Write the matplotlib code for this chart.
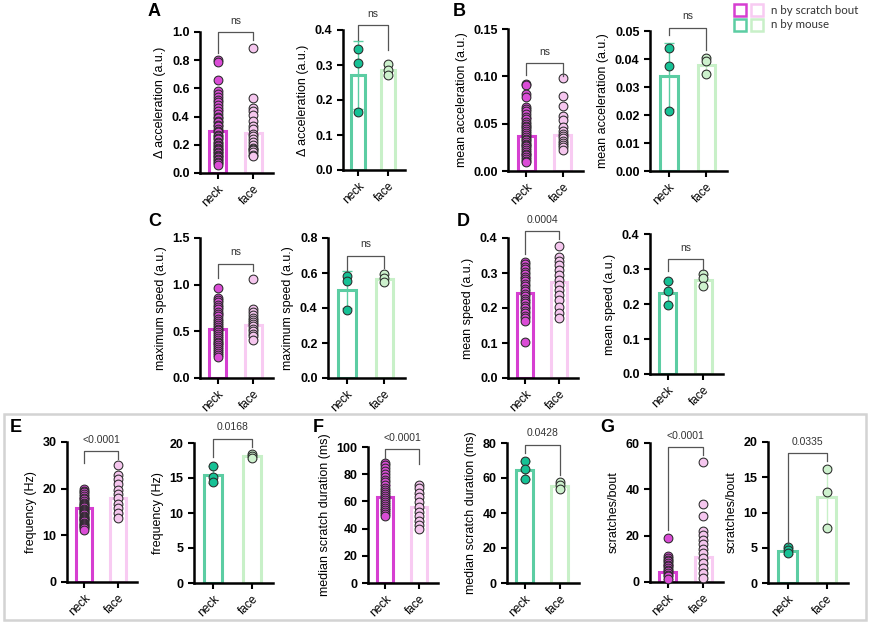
import matplotlib
matplotlib.use("Agg")
from matplotlib import pyplot as plt
from matplotlib.patches import Rectangle

plt.rcParams['font.family'] = ['Liberation Sans', 'DejaVu Sans']

W, H = 870, 625

# colours
NECK_BOUT = '#D63FD1'
NECK_BOUT_PT = '#DA4CD6'
FACE_BOUT = '#F8CBF2'
FACE_BOUT_PT = '#F5C6EE'
NECK_MOUSE = '#5CCDA3'
NECK_MOUSE_PT = '#16C195'
FACE_MOUSE = '#C8F0C8'
FACE_MOUSE_PT = '#CDF1CD'

categories = ['neck', 'face']

# ---- A: delta acceleration ----
a1_neck = [0.80, 0.79, 0.66, 0.58, 0.56, 0.54, 0.52, 0.50, 0.48, 0.46, 0.44, 0.42, 0.40,
           0.39, 0.37, 0.36, 0.34, 0.33, 0.31, 0.30, 0.29, 0.27, 0.26, 0.25, 0.24, 0.22,
           0.21, 0.20, 0.19, 0.18, 0.17, 0.16, 0.15, 0.14, 0.13, 0.12, 0.11, 0.10, 0.09,
           0.08, 0.07, 0.06]
a1_face = [0.89, 0.53, 0.46, 0.44, 0.41, 0.37, 0.33, 0.31, 0.28, 0.26, 0.24, 0.22, 0.20,
           0.18, 0.17, 0.16, 0.15, 0.13, 0.12]
a1_mean = [0.30, 0.285]
a1_sd = [0.15, 0.16]
a2_neck = [0.347, 0.307, 0.165]
a2_face = [0.303, 0.286, 0.271]
a2_mean = [0.272, 0.285]
a2_sd = [0.097, 0.016]

# ---- B: mean acceleration ----
b1_neck = [0.092, 0.091, 0.081, 0.078, 0.068, 0.066, 0.063, 0.060, 0.057, 0.055, 0.052,
           0.050, 0.048, 0.046, 0.044, 0.042, 0.040, 0.038, 0.036, 0.034, 0.033, 0.031,
           0.029, 0.027, 0.026, 0.024, 0.022, 0.020, 0.018, 0.017, 0.015, 0.013, 0.011,
           0.010]
b1_face = [0.098, 0.079, 0.069, 0.058, 0.054, 0.046, 0.042, 0.039, 0.037, 0.035, 0.032,
           0.030, 0.027, 0.025, 0.022]
b1_mean = [0.0368, 0.038]
b1_sd = [0.019, 0.018]
b2_neck = [0.044, 0.0374, 0.0213]
b2_face = [0.0404, 0.0392, 0.0348]
b2_mean = [0.0338, 0.0377]
b2_sd = [0.0118, 0.003]

# ---- C: maximum speed ----
c1_neck = [0.964, 0.857, 0.832, 0.810, 0.786, 0.760, 0.736, 0.710, 0.682, 0.660, 0.636,
           0.610, 0.590, 0.570, 0.550, 0.530, 0.510, 0.490, 0.470, 0.450, 0.430, 0.410,
           0.390, 0.370, 0.350, 0.330, 0.310, 0.290, 0.270, 0.250, 0.225]
c1_face = [1.064, 0.743, 0.707, 0.671, 0.648, 0.625, 0.600, 0.575, 0.552, 0.529, 0.500,
           0.475, 0.445, 0.411]
c1_mean = [0.529, 0.564]
c1_sd = [0.16, 0.15]
c2_neck = [0.585, 0.552, 0.390]
c2_face = [0.596, 0.573, 0.549]
c2_mean = [0.505, 0.568]
c2_sd = [0.105, 0.024]

# ---- D: mean speed ----
d1_neck = [0.332, 0.325, 0.318, 0.311, 0.304, 0.297, 0.290, 0.283, 0.276, 0.269, 0.262,
           0.255, 0.248, 0.241, 0.234, 0.227, 0.220, 0.213, 0.206, 0.199, 0.192, 0.185,
           0.178, 0.171, 0.164, 0.103]
d1_face = [0.377, 0.346, 0.334, 0.322, 0.308, 0.294, 0.280, 0.265, 0.251, 0.237, 0.223,
           0.204, 0.185, 0.171]
d1_mean = [0.2436, 0.275]
d1_sd = [0.045, 0.055]
d2_neck = [0.266, 0.238, 0.197]
d2_face = [0.286, 0.274, 0.252]
d2_mean = [0.231, 0.269]
d2_sd = [0.034, 0.017]

# ---- E: frequency ----
e1_neck = [20.0, 19.6, 19.3, 18.9, 18.5, 18.1, 17.8, 17.4, 17.0, 16.7, 16.5, 16.2, 16.0,
           15.7, 15.5, 15.2, 15.0, 14.7, 14.5, 14.2, 14.0, 13.7, 13.5, 13.2, 13.0, 12.7,
           12.5, 12.2, 12.0, 11.7, 11.5, 11.2]
e1_face = [25.0, 22.9, 22.0, 21.0, 19.8, 18.8, 17.9, 16.8, 15.8, 14.7, 13.8]
e1_mean = [15.8, 18.1]
e1_sd = [2.2, 3.3]
e2_neck = [16.7, 15.2, 14.4]
e2_face = [18.5, 18.1, 17.8]
e2_mean = [15.5, 18.1]
e2_sd = [1.2, 0.35]

# ---- F: median scratch duration ----
f1_neck = [88.5, 86.6, 84.5, 82.0, 80.0, 78.0, 76.0, 74.0, 72.0, 70.0, 68.5, 67.0, 65.5,
           64.0, 62.5, 61.0, 59.5, 58.0, 56.5, 55.0, 53.5, 52.0, 50.5, 49.3]
f1_face = [72.0, 69.5, 66.3, 62.9, 59.8, 56.1, 52.4, 49.3, 45.9, 42.7, 39.5]
f1_mean = [63.4, 55.6]
f1_sd = [9.0, 10.0]
f2_neck = [69.9, 65.3, 59.6]
f2_face = [57.5, 56.2, 53.9]
f2_mean = [64.8, 55.6]
f2_sd = [5.2, 1.8]

# ---- G: scratches per bout ----
g1_neck = [19.0, 11.1, 10.4, 9.6, 8.9, 8.2, 7.5, 6.8, 6.1, 5.3, 4.6, 3.9, 3.2, 2.4, 1.4]
g1_face = [51.8, 33.7, 28.6, 22.2, 20.4, 18.3, 16.4, 14.4, 12.5, 10.4, 8.2, 6.0, 3.9, 1.7]
g1_mean = [4.3, 10.8]
g1_sd = [3.0, 10.5]
g2_neck = [5.1, 4.7, 4.3]
g2_face = [16.1, 12.9, 7.8]
g2_mean = [4.5, 12.2]
g2_sd = [0.4, 4.2]

# panel specs: pixel box (left, top, right, bottom), data, limits, bracket, text
panels = [
    # A
    dict(box=(200, 32, 273, 173), neck=a1_neck, face=a1_face, mean=a1_mean, sd=a1_sd,
         kind='bout', ylim=1.0, ticks=[0, 0.2, 0.4, 0.6, 0.8, 1.0], fmt='%.1f',
         ylabel='Δ acceleration (a.u.)', br=(1.0, 0.85, 0.94), txt='ns'),
    dict(box=(343, 30, 405, 170), neck=a2_neck, face=a2_face, mean=a2_mean, sd=a2_sd,
         kind='mouse', ylim=0.4, ticks=[0, 0.1, 0.2, 0.3, 0.4], fmt='%.1f',
         ylabel='Δ acceleration (a.u.)', br=(0.414, 0.371, 0.343), txt='ns'),
    # B
    dict(box=(508, 29, 583, 171), neck=b1_neck, face=b1_face, mean=b1_mean, sd=b1_sd,
         kind='bout', ylim=0.15, ticks=[0, 0.05, 0.10, 0.15], fmt='%.2f',
         ylabel='mean acceleration (a.u.)', br=(0.114, 0.1015, 0.100), txt='ns'),
    dict(box=(650, 31, 727, 171), neck=b2_neck, face=b2_face, mean=b2_mean, sd=b2_sd,
         kind='mouse', ylim=0.05, ticks=[0, 0.01, 0.02, 0.03, 0.04, 0.05], fmt='%.2f',
         ylabel='mean acceleration (a.u.)', br=(0.0512, 0.0487, 0.0433), txt='ns'),
    # C
    dict(box=(200, 238, 273, 378), neck=c1_neck, face=c1_face, mean=c1_mean, sd=c1_sd,
         kind='bout', ylim=1.5, ticks=[0, 0.5, 1.0, 1.5], fmt='%.1f',
         ylabel='maximum speed (a.u.)', br=(1.225, 1.075, 1.143), txt='ns'),
    dict(box=(328, 238, 405, 378), neck=c2_neck, face=c2_face, mean=c2_mean, sd=c2_sd,
         kind='mouse', ylim=0.8, ticks=[0, 0.2, 0.4, 0.6, 0.8], fmt='%.1f',
         ylabel='maximum speed (a.u.)', br=(0.699, 0.61, 0.63), txt='ns'),
    # D
    dict(box=(508, 238, 578, 378), neck=d1_neck, face=d1_face, mean=d1_mean, sd=d1_sd,
         kind='bout', ylim=0.4, ticks=[0, 0.1, 0.2, 0.3, 0.4], fmt='%.1f',
         ylabel='mean speed (a.u.)', br=(0.42, 0.355, 0.398), txt='0.0004'),
    dict(box=(650, 234, 723, 374), neck=d2_neck, face=d2_face, mean=d2_mean, sd=d2_sd,
         kind='mouse', ylim=0.4, ticks=[0, 0.1, 0.2, 0.3, 0.4], fmt='%.1f',
         ylabel='mean speed (a.u.)', br=(0.328, 0.293, 0.298), txt='ns'),
    # E
    dict(box=(67, 442, 137, 582), neck=e1_neck, face=e1_face, mean=e1_mean, sd=e1_sd,
         kind='bout', ylim=30, ticks=[0, 10, 20, 30], fmt='%d',
         ylabel='frequency (Hz)', br=(28.1, 25.4, 26.4), txt='<0.0001'),
    dict(box=(194, 443, 273, 583), neck=e2_neck, face=e2_face, mean=e2_mean, sd=e2_sd,
         kind='mouse', ylim=20, ticks=[0, 5, 10, 15, 20], fmt='%d',
         ylabel='frequency (Hz)', br=(20.6, 18.0, 19.4), txt='0.0168'),
    # F
    dict(box=(368, 447, 438, 583), neck=f1_neck, face=f1_face, mean=f1_mean, sd=f1_sd,
         kind='bout', ylim=100, ticks=[0, 20, 40, 60, 80, 100], fmt='%d',
         ylabel='median scratch duration (ms)', br=(98.3, 92.2, 87.8), txt='<0.0001'),
    dict(box=(507, 443, 579, 583), neck=f2_neck, face=f2_face, mean=f2_mean, sd=f2_sd,
         kind='mouse', ylim=80, ticks=[0, 20, 40, 60, 80], fmt='%d',
         ylabel='median scratch duration (ms)', br=(79.0, 74.3, 61.5), txt='0.0428'),
    # G
    dict(box=(650, 443, 723, 582), neck=g1_neck, face=g1_face, mean=g1_mean, sd=g1_sd,
         kind='bout', ylim=60, ticks=[0, 20, 40, 60], fmt='%d',
         ylabel='scratches/bout', br=(58.1, 22.3, 55.0), txt='<0.0001'),
    dict(box=(768, 442, 848, 583), neck=g2_neck, face=g2_face, mean=g2_mean, sd=g2_sd,
         kind='mouse', ylim=20, ticks=[0, 5, 10, 15, 20], fmt='%d',
         ylabel='scratches/bout', br=(18.4, 5.6, 17.3), txt='0.0335'),
]

fig = plt.figure(figsize=(W / 100, H / 100), dpi=100)

# grey frame around E-G
fig.add_artist(Rectangle((4 / W, 1 - 620 / H), 862 / W, 206 / H, transform=fig.transFigure,
                         fill=False, edgecolor='#D3D3D3', linewidth=1.8))

for p in panels:
    l, t, r, b = p['box']
    ax = fig.add_axes([l / W, 1 - b / H, (r - l) / W, (b - t) / H])
    if p['kind'] == 'bout':
        edges = [NECK_BOUT, FACE_BOUT]
        fills = [NECK_BOUT_PT, FACE_BOUT_PT]
    else:
        edges = [NECK_MOUSE, FACE_MOUSE]
        fills = [NECK_MOUSE_PT, FACE_MOUSE_PT]
    xs = [0, 1]
    for i in xs:
        ax.bar(i, p['mean'][i], width=0.47, facecolor='white', edgecolor=edges[i],
               linewidth=2.2, zorder=1)
        ax.errorbar(i, p['mean'][i], yerr=p['sd'][i], color=edges[i], capsize=3.5,
                    elinewidth=1.0, capthick=1.0, zorder=2)
        pts = p['neck'] if i == 0 else p['face']
        ax.scatter([i] * len(pts), pts, s=40, facecolor=fills[i], edgecolor='#2a2a2a',
                   linewidth=0.75, zorder=3, clip_on=False)
    # significance bracket
    top, ln, rn = p['br']
    ax.plot([0, 0, 1, 1], [ln, top, top, rn], color='#555555', linewidth=0.9,
            clip_on=False, zorder=4)
    ax.text(0.5, top + p['ylim'] * 0.045, p['txt'], ha='center', va='bottom', fontsize=7.5,
            color='#333333')

    ax.set_xlim(-0.5, 1.55)
    ax.set_ylim(0, p['ylim'])
    ax.set_yticks(p['ticks'])
    ax.set_yticklabels([p['fmt'] % v for v in p['ticks']], fontweight='bold', fontsize=9)
    ax.set_xticks(xs)
    ax.set_xticklabels(categories, rotation=45, ha='right', rotation_mode='anchor',
                       fontsize=8.5)
    ax.set_ylabel(p['ylabel'], fontsize=9)
    for s in ['top', 'right']:
        ax.spines[s].set_visible(False)
    for s in ['left', 'bottom']:
        ax.spines[s].set_linewidth(1.8)
    ax.tick_params(width=1.5, length=4)

# panel letters
letters = [('A', 148, 12), ('B', 453, 12), ('C', 148, 222), ('D', 457, 222),
           ('E', 10, 428), ('F', 313, 428), ('G', 600, 428)]
for lt, x, y in letters:
    fig.text(x / W, 1 - y / H, lt, fontsize=13, fontweight='bold', va='center', ha='left')

# legend
legend_rows = [('n by scratch bout', NECK_BOUT, FACE_BOUT, 10),
               ('n by mouse', NECK_MOUSE, FACE_MOUSE, 25)]
for label, c1, c2, yc in legend_rows:
    for x0, c in [(734, c1), (751, c2)]:
        fig.add_artist(Rectangle((x0 / W, 1 - (yc + 6) / H), 12 / W, 12 / H,
                                 transform=fig.transFigure, fill=False, edgecolor=c,
                                 linewidth=1.8))
    fig.text(771 / W, 1 - yc / H, label, fontsize=8.3, va='center', ha='left',
             family=['Lato', 'DejaVu Sans'], color='#333333')

fig.savefig('out.png', dpi=100)
